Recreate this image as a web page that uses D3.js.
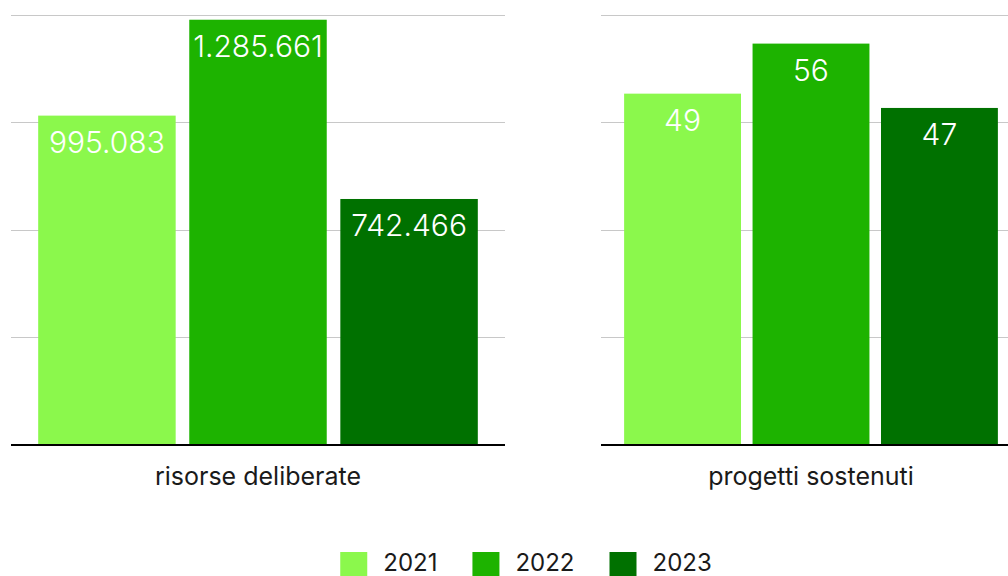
<!DOCTYPE html>
<html lang="it">

<head>
    <meta charset="UTF-8">
    <title>Risorse e progetti</title>
    <script src="https://d3js.org/d3.v7.min.js"></script>
    <style>
        body {
            margin: 0;
            background: #ffffff;
            overflow: hidden;
        }

        svg {
            display: block;
            font-family: Inter, "Noto Sans", sans-serif;
        }

        .grid line {
            stroke: #c8c8c8;
            stroke-width: 1px;
        }

        .value-label {
            fill: #ffffff;
            font-size: 30px;
            font-weight: 300;
            text-anchor: middle;
        }

        .cat-label {
            fill: #1a1a1a;
            font-size: 25px;
            text-anchor: middle;
        }

        .legend-label {
            fill: #1a1a1a;
            font-size: 24px;
        }
    </style>
</head>

<body>
    <svg id="chart" width="1008" height="576"></svg>

    <script>
        // Data
        const years = ["2021", "2022", "2023"];
        const colors = ["#8bf84c", "#1db300", "#007100"];
        const categories = ["risorse deliberate", "progetti sostenuti"];
        const risorse = [995083, 1285661, 742466];
        const progetti = [49, 56, 47];
        const risorseTicks = [0, 325000, 650000, 975000, 1300000];
        const progettiTicks = [0, 15, 30, 45, 60];

        const svg = d3.select("#chart");
        const baseY = 444, topY = 15;

        // italian number format: 1.285.661
        const fmt = d3.formatLocale({ decimal: ",", thousands: ".", grouping: [3], currency: ["€", ""] }).format(",d");

        const color = d3.scaleOrdinal().domain(years).range(colors);

        // one panel per category
        const panels = [
            { label: categories[0], values: risorse, ticks: risorseTicks, x0: 11, x1: 505 },
            { label: categories[1], values: progetti, ticks: progettiTicks, x0: 601, x1: 1021 }
        ];

        panels.forEach(p => {
            const g = svg.append("g");

            const x = d3.scaleBand()
                .domain(years)
                .range([p.x0, p.x1])
                .paddingInner(0.09)
                .paddingOuter(0.18);

            const y = d3.scaleLinear()
                .domain([0, p.ticks[p.ticks.length - 1]])
                .range([baseY, topY]);

            // gridlines
            g.append("g").attr("class", "grid")
                .selectAll("line")
                .data(p.ticks.slice(1))
                .join("line")
                .attr("x1", p.x0).attr("x2", p.x1)
                .attr("y1", d => Math.round(y(d)) + 0.5)
                .attr("y2", d => Math.round(y(d)) + 0.5);

            const data = years.map((yr, i) => ({ year: yr, value: p.values[i] }));

            // bars
            g.selectAll("rect")
                .data(data)
                .join("rect")
                .attr("x", d => x(d.year))
                .attr("width", x.bandwidth())
                .attr("y", d => y(d.value))
                .attr("height", d => baseY - y(d.value))
                .attr("fill", d => color(d.year));

            // value labels inside bar top
            g.selectAll(".value-label")
                .data(data)
                .join("text")
                .attr("class", "value-label")
                .attr("x", d => x(d.year) + x.bandwidth() / 2)
                .attr("y", d => y(d.value) + 37)
                .text(d => fmt(d.value));

            // baseline
            g.append("line")
                .attr("x1", p.x0).attr("x2", p.x1)
                .attr("y1", baseY + 1).attr("y2", baseY + 1)
                .attr("stroke", "#000")
                .attr("stroke-width", 2);

            g.append("text")
                .attr("class", "cat-label")
                .attr("x", (p.x0 + p.x1) / 2)
                .attr("y", 485)
                .text(p.label);
        });

        // Legend
        const legend = svg.append("g");
        let lx = 0;
        years.forEach((yr, i) => {
            const item = legend.append("g").attr("transform", `translate(${lx},0)`);
            item.append("rect")
                .attr("x", 0).attr("y", 552)
                .attr("width", 27).attr("height", 27)
                .attr("fill", color(yr));
            const t = item.append("text")
                .attr("class", "legend-label")
                .attr("x", 43).attr("y", 571)
                .text(yr);
            lx += 43 + t.node().getComputedTextLength() + 35;
        });
        const legendW = lx - 35;
        legend.attr("transform", `translate(${526 - legendW / 2},0)`);
    </script>
</body>

</html>
